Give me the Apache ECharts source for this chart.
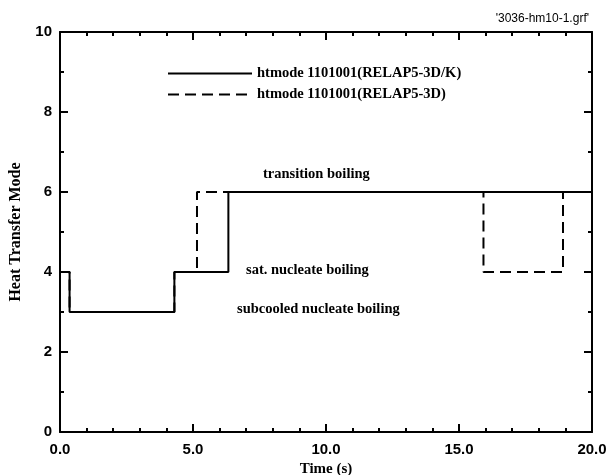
<!DOCTYPE html>
<html>
<head>
<meta charset="utf-8">
<script src="https://cdn.jsdelivr.net/npm/echarts@6/dist/echarts.min.js"></script>
<style>
  html, body { margin: 0; padding: 0; background: #fff; }
  #chart { width: 607px; height: 475px; }
</style>
</head>
<body>
<div id="chart"></div>
<script>
// Heat transfer mode history, step data: [time (s), mode]
const seriesNames = ['htmode 1101001(RELAP5-3D/K)', 'htmode 1101001(RELAP5-3D)'];
const kTime = [0.0, 0.36, 4.30, 6.33, 20.0];
const kMode = [4, 3, 4, 6, 6];
const rTime = [0.0, 0.36, 4.30, 5.15, 15.92, 18.91, 20.0];
const rMode = [4, 3, 4, 6, 4, 6, 6];
const regimeLabels = ['transition boiling', 'sat. nucleate boiling', 'subcooled nucleate boiling'];
const fileTag = "'3036-hm10-1.grf'";

const zip = (xs, ys) => xs.map((x, i) => [x, ys[i]]);

const serif = '"Liberation Serif", "Times New Roman", serif';
const sans = '"Liberation Sans", Arial, sans-serif';

const chart = echarts.init(document.getElementById('chart'));

const axisLine = { show: true, onZero: false, lineStyle: { color: '#000', width: 2 } };
const axisTick = { show: true, inside: true, length: 8, lineStyle: { color: '#000', width: 2 } };
const minorTick = { show: true, splitNumber: 5, length: 4, lineStyle: { color: '#000', width: 2 } };
const labelStyle = { color: '#000', fontFamily: sans, fontWeight: 'bold', fontSize: 15 };
const nameStyle = { color: '#000', fontFamily: serif, fontWeight: 'bold', fontSize: 16 };

chart.setOption({
  animation: false,
  backgroundColor: '#fff',
  grid: { left: 60, right: 15, top: 32, bottom: 43, containLabel: false, outerBoundsMode: 'none' },
  legend: {
    orient: 'vertical',
    left: 162,
    top: 61,
    itemWidth: 84,
    itemHeight: 14,
    itemGap: 6,
    data: seriesNames,
    itemStyle: { opacity: 0 },
    textStyle: { color: '#000', fontFamily: serif, fontWeight: 'bold', fontSize: 14.5, lineHeight: 14 },
    selectedMode: false
  },
  xAxis: [
    {
      type: 'value', min: 0, max: 20, interval: 5, position: 'bottom',
      axisLine, axisTick, minorTick,
      splitLine: { show: false },
      axisLabel: Object.assign({ margin: 10, formatter: v => v.toFixed(1) }, labelStyle),
      name: 'Time (s)', nameLocation: 'middle', nameGap: 27,
      nameTextStyle: Object.assign({}, nameStyle, { fontSize: 15 })
    },
    {
      type: 'value', min: 0, max: 20, interval: 5, position: 'top',
      axisLine, axisTick, minorTick,
      splitLine: { show: false }, axisLabel: { show: false }
    }
  ],
  yAxis: [
    {
      type: 'value', min: 0, max: 10, interval: 2, position: 'left',
      axisLine, axisTick, minorTick: Object.assign({}, minorTick, { splitNumber: 2 }),
      splitLine: { show: false },
      axisLabel: Object.assign({ margin: 8 }, labelStyle),
      name: 'Heat Transfer Mode', nameLocation: 'middle', nameGap: 36,
      nameTextStyle: nameStyle
    },
    {
      type: 'value', min: 0, max: 10, interval: 2, position: 'right',
      axisLine, axisTick, minorTick: Object.assign({}, minorTick, { splitNumber: 2 }),
      splitLine: { show: false }, axisLabel: { show: false }
    }
  ],
  series: [
    {
      name: seriesNames[0], type: 'line', step: 'end', symbol: 'none',
      data: zip(kTime, kMode),
      lineStyle: { color: '#000', width: 2, type: 'solid' },
      itemStyle: { color: '#000' }, z: 3
    },
    {
      name: seriesNames[1], type: 'line', step: 'end', symbol: 'none',
      data: zip(rTime, rMode),
      lineStyle: { color: '#000', width: 2, type: [11, 6] },
      itemStyle: { color: '#000' }, z: 2
    }
  ],
  graphic: [
    { type: 'text', left: 263, top: 167,
      style: { text: regimeLabels[0], font: 'bold 14.5px ' + serif, fill: '#000' } },
    { type: 'text', left: 246, top: 263,
      style: { text: regimeLabels[1], font: 'bold 14.5px ' + serif, fill: '#000' } },
    { type: 'text', left: 237, top: 302,
      style: { text: regimeLabels[2], font: 'bold 14.5px ' + serif, fill: '#000' } },
    { type: 'text', right: 18, top: 13,
      style: { text: fileTag, font: '12px ' + sans, fill: '#000' } }
  ]
});
</script>
</body>
</html>
